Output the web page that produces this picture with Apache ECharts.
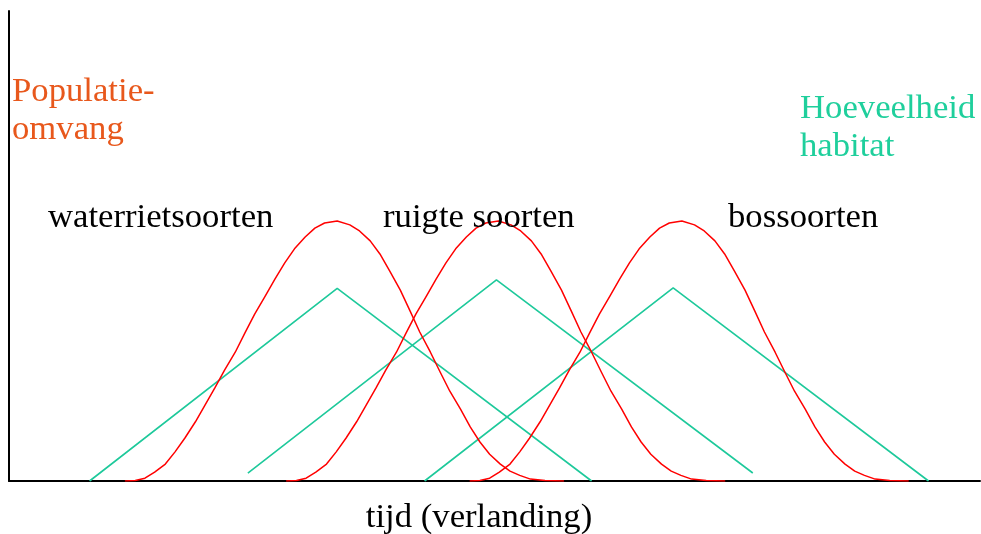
<!DOCTYPE html>
<html>
<head>
<meta charset="utf-8">
<script src="https://cdn.jsdelivr.net/npm/echarts@6/dist/echarts.min.js"></script>
<style>
html,body{margin:0;padding:0;background:#fff;}
#chart{width:981px;height:534px;}
</style>
</head>
<body>
<div id="chart"></div>
<script>
// ---- data (time on x 0..100, size on y 0..100) ----
const speciesGroups = ["waterrietsoorten", "ruigte soorten", "bossoorten"];
const yAxisLabel = ["Populatie-", "omvang"];
const habitatLabel = ["Hoeveelheid", "habitat"];
const xAxisLabel = "tijd (verlanding)";

// population curves (red)
const popWaterX  = [12.0,13.0,14.0,15.0,16.1,17.1,18.1,19.2,20.2,21.2,22.2,23.3,24.3,25.3,26.4,27.4,28.4,29.4,30.5,31.5,32.5,33.8,35.1,36.1,37.2,38.2,39.2,40.3,41.3,42.3,43.4,44.4,45.4,46.5,47.5,48.5,49.5,50.6,51.6,52.6,53.7,55.2,57.1];
const popRuigteX = [28.6,29.6,30.6,31.6,32.7,33.7,34.7,35.8,36.8,37.8,38.8,39.9,40.9,41.9,43.0,44.0,45.0,46.0,47.1,48.1,49.1,50.4,51.7,52.7,53.8,54.8,55.8,56.9,57.9,58.9,60.0,61.0,62.0,63.1,64.1,65.1,66.1,67.2,68.2,69.2,70.3,71.8,73.7];
const popBosX    = [47.5,48.5,49.5,50.5,51.6,52.6,53.6,54.7,55.7,56.7,57.7,58.8,59.8,60.8,61.9,62.9,63.9,64.9,66.0,67.0,68.0,69.3,70.6,71.6,72.7,73.7,74.7,75.8,76.8,77.8,78.9,79.9,80.9,82.0,83.0,84.0,85.0,86.1,87.1,88.1,89.2,90.7,92.6];
const popWaterY  = [0,0.1,0.6,1.9,3.6,6.2,9.1,12.6,16.2,19.8,23.6,27.4,31.5,35.5,39.4,43.0,46.4,49.4,51.9,53.8,54.9,55.3,54.5,53.2,51.1,48.3,44.7,40.6,36.2,31.7,27.4,23.2,19.1,15.3,11.5,8.3,5.7,3.6,2.1,1.2,0.4,0.1,0];
const popRuigteY = [0,0.1,0.6,1.9,3.6,6.2,9.1,12.6,16.2,19.8,23.6,27.4,31.5,35.5,39.4,43.0,46.4,49.4,51.9,53.8,54.9,55.3,54.5,53.2,51.1,48.3,44.7,40.6,36.2,31.7,27.4,23.2,19.1,15.3,11.5,8.3,5.7,3.6,2.1,1.2,0.4,0.1,0];
const popBosY    = [0,0.1,0.6,1.9,3.6,6.2,9.1,12.6,16.2,19.8,23.6,27.4,31.5,35.5,39.4,43.0,46.4,49.4,51.9,53.8,54.9,55.3,54.5,53.2,51.1,48.3,44.7,40.6,36.2,31.7,27.4,23.2,19.1,15.3,11.5,8.3,5.7,3.6,2.1,1.2,0.4,0.1,0];

// habitat amount (green triangles)
const habWaterX  = [8.3, 33.8, 60.0];
const habWaterY  = [0, 41.0, 0];
const habRuigteX = [24.6, 50.2, 76.6];
const habRuigteY = [1.7, 42.8, 1.7];
const habBosX    = [42.8, 68.4, 94.7];
const habBosY    = [0, 41.1, 0];

// ---- build ----
const zip = (xs, ys) => xs.map((x, i) => [x, ys[i]]);
const RED = '#ff0000', GREEN = '#1ec99b', ORANGE = '#e8581c', TGREEN = '#1fcf9c';
const FONT = '34.7px "Liberation Serif", "Times New Roman", serif';

function popSeries(name, d) {
  return { name, type: 'line', data: d, showSymbol: false, smooth: false,
    lineStyle: { color: RED, width: 1.5, join: 'round', cap: 'round' }, silent: true, z: 3 };
}
function habSeries(name, d) {
  return { name, type: 'line', data: d, showSymbol: false, smooth: false,
    lineStyle: { color: GREEN, width: 1.6 }, silent: true, z: 2 };
}

function txt(text, x, y, color, align) {
  return { type: 'text', x, y, silent: true, z: 10,
    style: { text, fill: color, font: FONT, align: align || 'left', verticalAlign: 'middle' } };
}

const chart = echarts.init(document.getElementById('chart'), null, { renderer: 'canvas' });
chart.setOption({
  animation: false,
  backgroundColor: '#fff',
  grid: { left: 9, right: 1, top: 11, bottom: 53, outerBoundsMode: 'none' },
  xAxis: { type: 'value', min: 0, max: 100,
    axisLine: { show: true, onZero: false, lineStyle: { color: '#000', width: 2 } },
    axisTick: { show: false }, axisLabel: { show: false }, splitLine: { show: false } },
  yAxis: { type: 'value', min: 0, max: 100,
    axisLine: { show: true, onZero: false, lineStyle: { color: '#000', width: 2 } },
    axisTick: { show: false }, axisLabel: { show: false }, splitLine: { show: false } },
  series: [
    habSeries('hab ' + speciesGroups[0], zip(habWaterX, habWaterY)),
    habSeries('hab ' + speciesGroups[1], zip(habRuigteX, habRuigteY)),
    habSeries('hab ' + speciesGroups[2], zip(habBosX, habBosY)),
    popSeries(speciesGroups[0], zip(popWaterX, popWaterY)),
    popSeries(speciesGroups[1], zip(popRuigteX, popRuigteY)),
    popSeries(speciesGroups[2], zip(popBosX, popBosY))
  ],
  graphic: [
    txt(yAxisLabel[0], 12, 91.4, ORANGE),
    txt(yAxisLabel[1], 12, 129.4, ORANGE),
    txt(habitatLabel[0], 800, 109.1, TGREEN),
    txt(habitatLabel[1], 800, 146.4, TGREEN),
    txt(speciesGroups[0], 48, 217.4, '#000'),
    txt(speciesGroups[1], 383, 217.4, '#000'),
    txt(speciesGroups[2], 728, 217.4, '#000'),
    txt(xAxisLabel, 479, 517.4, '#000', 'center')
  ]
});
</script>
</body>
</html>
